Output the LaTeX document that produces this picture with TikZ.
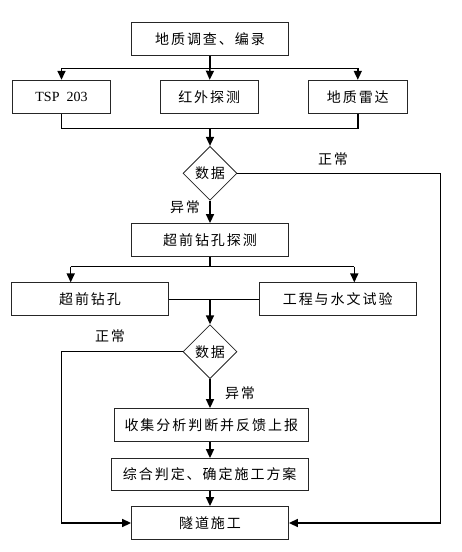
\documentclass[tikz,border=0pt]{standalone}
\usepackage{fontspec}
\setmainfont{Liberation Serif}
\newfontfamily\cjk[LetterSpace=14]{Noto Sans CJK SC}
\usetikzlibrary{shapes.geometric,arrows.meta}
\tikzset{
	box/.style={draw=black!85,line width=.8pt,minimum height=33pt,inner sep=0pt,font=\fontsize{14}{14}\selectfont\cjk},
	pan/.style={draw=black!85,diamond,line width=.8pt,minimum width=54pt,minimum height=54pt,inner sep=0pt,font=\fontsize{14}{14}\selectfont\cjk},
	lbl/.style={font=\fontsize{14}{14}\selectfont\cjk},
	line/.style={line width=1.5pt},
	arr/.style={line width=1.5pt,-{Triangle[length=9pt,width=8pt]}}
}
\begin{document}
\begin{tikzpicture}[x=1pt,y=-1pt]%LUU DO
		\useasboundingbox (0,0) rectangle (461,552);
		\node[box,minimum width=157pt] (dz) at (210,38.7) {地质调查、编录};
		\node[box,minimum width=98pt,font=\fontsize{14}{14}\selectfont] (tsp) at (61.5,96.7) {TSP\ \ 203};
		\node[box,minimum width=98pt] (hw) at (209.2,96.7) {红外探测};
		\node[box,minimum width=99pt] (ld) at (357.8,96.7) {地质雷达};
		\node[pan] (sj1) at (210,173.3) {数据};
		\node[box,minimum width=157pt] (cq) at (210,240) {超前钻孔探测};
		\node[box,minimum width=157pt] (zk) at (90,299.3) {超前钻孔};
		\node[box,minimum width=157pt] (gc) at (337.7,299.3) {工程与水文试验};
		\node[pan] (sj2) at (210,351.7) {数据};
		\node[box,minimum width=194pt] (sf) at (211.3,425) {收集分析判断并反馈上报};
		\node[box,minimum width=197pt,minimum height=32pt] (zh) at (209.7,474.5) {综合判定、确定施工方案};
		\node[box,minimum width=157pt] (sd) at (210,523) {隧道施工};
		\node[lbl] (zc1) at (333,159) {正常};
		\node[lbl] (yc1) at (185,207) {异常};
		\node[lbl] (zc2) at (110,336) {正常};
		\node[lbl] (yc2) at (240,393.3) {异常};
		% duong noi
		\coordinate (s1) at (210,68.3);
		\coordinate (m1) at (210,128.3);
		\coordinate (a2) at (70.7,266.7);
		\coordinate (b2) at (354.3,266.7);
		\coordinate (s2) at (210,266.7);
		\coordinate (m2) at (210,299.3);
		\coordinate (r1) at (440.7,173.3);
		\coordinate (l1) at (61.7,351.7);
		\draw[line] (dz) -- (s1);
		\draw[arr] (s1) -| (tsp.north);
		\draw[arr] (s1) -| (ld.north);
		\draw[arr] (s1) -- (hw);
		\draw[line] (tsp) |- (m1) -| (ld);
		\draw[arr] (m1) -- (sj1);
		\draw[arr] (sj1.east) -- (r1) |- (sd.east);
		\draw[arr] (sj1) -- (cq);
		\draw[line] (cq) -- (s2);
		\draw[line] (a2) -- (b2);
		\draw[arr] (a2) -- (a2 |- zk.north);
		\draw[arr] (b2) -- (b2 |- gc.north);
		\draw[line] (zk) -- (gc);
		\draw[arr] (m2) -- (sj2);
		\draw[arr] (sj2.west) -- (l1) |- (sd.west);
		\draw[arr] (sj2) -- (sj2 |- sf.north);
		\draw[arr] (sf.south -| sd) -- (sd |- zh.north);
		\draw[arr] (zh.south -| sd) -- (sd);
\end{tikzpicture}
\end{document}
